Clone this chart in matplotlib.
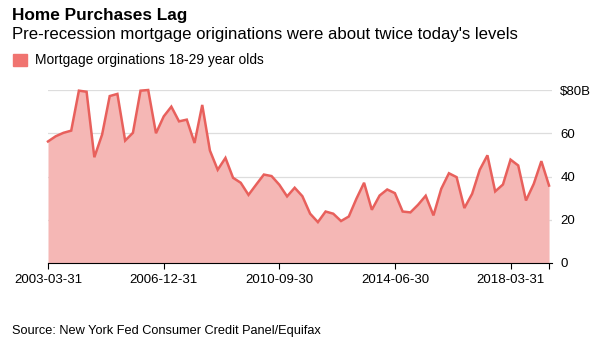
import matplotlib
matplotlib.use("Agg")
import matplotlib.pyplot as plt
import pandas as pd

plt.rcParams["font.family"] = ["Liberation Sans", "DejaVu Sans"]

# Quarterly mortgage originations, 18-29 year olds ($B)
start_date = "2003-03-31"
values = [
    56.2, 58.6, 60.2, 61.2, 79.7, 79.2, 48.9, 59.4, 77.2, 78.2,
    56.6, 60.2, 79.7, 80.0, 60.0, 67.8, 72.3, 65.5, 66.3, 55.5,
    73.1, 52.0, 43.1, 48.6, 39.4, 37.1, 31.5, 36.3, 40.9, 40.2,
    36.2, 30.8, 34.8, 30.9, 22.8, 18.9, 23.8, 22.8, 19.4, 21.5,
    29.7, 37.1, 24.6, 31.2, 34.0, 32.3, 23.8, 23.4, 26.9, 31.1,
    22.0, 34.3, 41.5, 39.7, 25.4, 32.0, 43.1, 49.8, 33.1, 36.3,
    47.8, 45.1, 28.9, 36.6, 47.1, 35.8,
]
x_tick_labels = ["2003-03-31", "2006-12-31", "2010-09-30", "2014-06-30", "2018-03-31"]
y_ticks = [0, 20, 40, 60, 80]
y_tick_labels = ["0", "20", "40", "60", "$80B"]

title = "Home Purchases Lag"
subtitle = "Pre-recession mortgage originations were about twice today's levels"
legend_label = "Mortgage orginations 18-29 year olds"
source = "Source: New York Fed Consumer Credit Panel/Equifax"

LINE = "#e8605c"
FILL = "#f5b7b5"
SWATCH = "#f07470"

dates = pd.date_range(start_date, periods=len(values), freq="QE")
df = pd.DataFrame({"dt": dates, "val": values})

fig = plt.figure(figsize=(6, 3.45), dpi=100)
ax = fig.add_axes([0.08, 0.2377, 0.84, 0.5014])

ax.fill_between(df["dt"], 0, df["val"], color=FILL, linewidth=0, zorder=2)
ax.plot(df["dt"], df["val"], color=LINE, linewidth=1.8, zorder=3,
        solid_joinstyle="miter", clip_on=False)

ax.set_ylim(0, 80)
ax.set_xlim(df["dt"].iloc[0], df["dt"].iloc[-1] + pd.Timedelta(days=35))

# y axis on the right, grid lines only
ax.yaxis.tick_right()
ax.set_yticks(y_ticks)
ax.set_yticklabels(y_tick_labels)
ax.tick_params(axis="y", length=0, pad=6, labelsize=9.5, colors="#000000")
ax.grid(axis="y", color="#dddddd", linewidth=0.9, zorder=1)

# x ticks: labelled dates + an unlabelled one at the last quarter
tick_dates = [pd.Timestamp(d) for d in x_tick_labels] + [df["dt"].iloc[-1]]
ax.set_xticks(tick_dates)
ax.set_xticklabels(x_tick_labels + [""])
ax.tick_params(axis="x", length=4, width=0.8, pad=4, labelsize=9.5, colors="#000000")

for s in ["top", "left", "right"]:
    ax.spines[s].set_visible(False)
ax.spines["bottom"].set_color("#000000")
ax.spines["bottom"].set_linewidth(0.8)
ax.spines["bottom"].set_zorder(4)

# header text
fig.text(12 / 600, 1 - 20 / 345, title, fontsize=12.4, fontweight="bold", va="baseline")
fig.text(12 / 600, 1 - 39 / 345, subtitle, fontsize=12.1, va="baseline")
fig.patches.append(plt.Rectangle((13 / 600, 1 - 66 / 345), 14 / 600, 12 / 345,
                                 transform=fig.transFigure, color=SWATCH))
fig.text(35 / 600, 1 - 64 / 345, legend_label, fontsize=9.9, va="baseline")
fig.text(12 / 600, 1 - 334 / 345, source, fontsize=9.2, va="baseline")

fig.savefig("out.png", dpi=100)
